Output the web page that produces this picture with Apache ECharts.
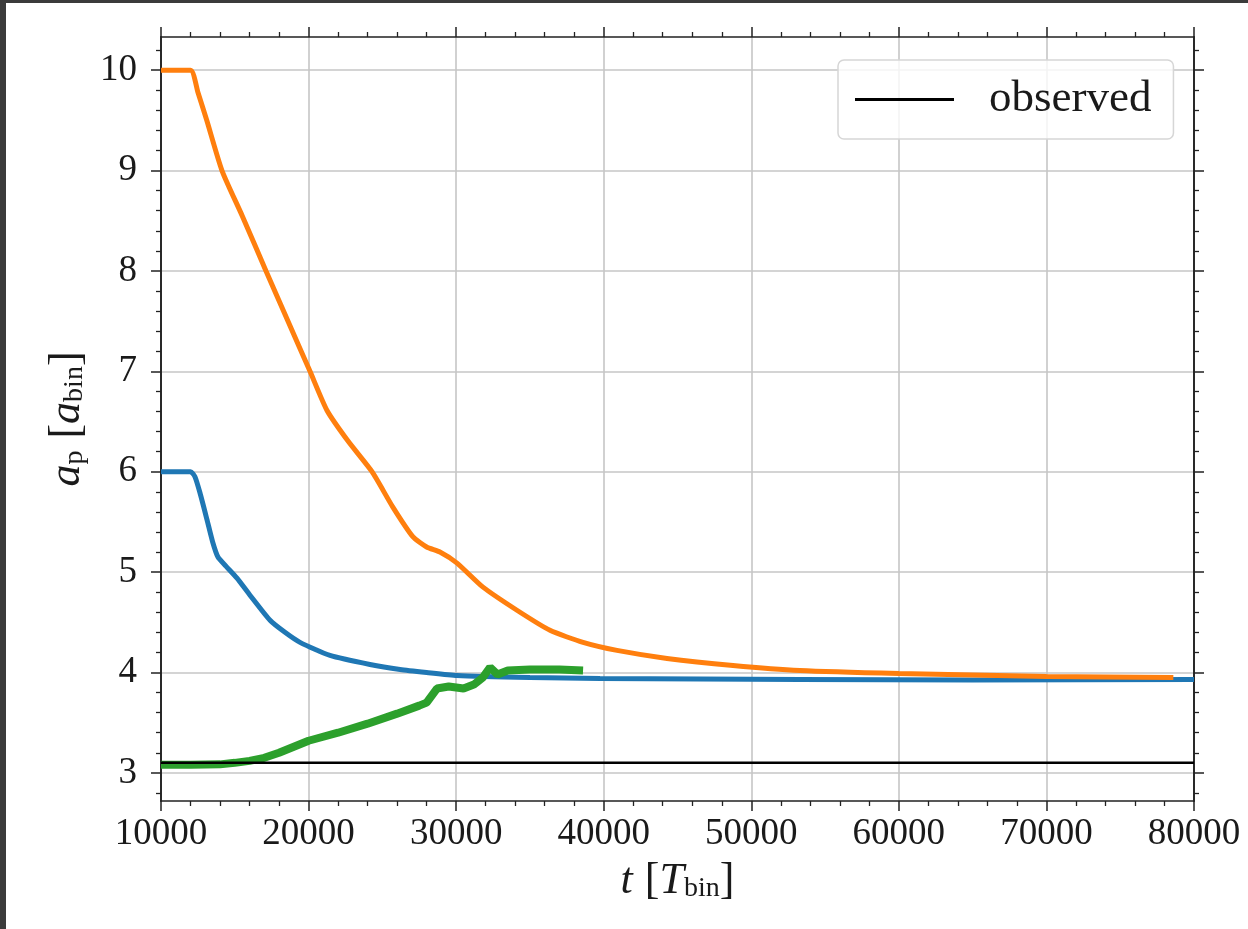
<!DOCTYPE html>
<html>
<head>
<meta charset="utf-8">
<script src="https://cdn.jsdelivr.net/npm/echarts@6/dist/echarts.min.js"></script>
<style>
  html, body { margin: 0; padding: 0; background: #3b3b3b; width: 1248px; height: 929px; overflow: hidden; }
  #chart { position: absolute; left: 6px; top: 3px; width: 1242px; height: 926px; background: #ffffff; }
</style>
</head>
<body>
<div id="chart"></div>
<script>
// ---- data ----
const blueT   = [10000, 12000, 12300, 12640, 13120, 13500, 13860, 14400, 15150, 16030, 17390, 18400, 19420, 21450, 24160, 26200, 28000, 30060, 35000, 39750, 53300, 65000, 80000];
const blueV   = [6.00,  6.00,  5.95,  5.79,  5.52,  5.30,  5.15,  5.06,  4.94,  4.77,  4.52,  4.40,  4.30,  4.17,  4.08,  4.03,  4.00,  3.97,  3.95,  3.94,  3.93,  3.925, 3.93];

const orangeT = [10000, 12000, 12500, 13100, 14130, 15500, 17115, 18600, 20097, 21250, 22700, 24300, 25700, 27080, 28000, 28900, 30060, 31820, 34120, 36360, 38600, 40900, 44290, 48760, 53300, 60000, 70000, 78600];
const orangeV = [10.0,  10.0,  9.78,  9.50,  9.00,  8.55,  8.00,  7.50,  7.00,  6.61,  6.30,  6.00,  5.65,  5.35,  5.25,  5.20,  5.09,  4.85,  4.62,  4.42,  4.30,  4.22,  4.14,  4.07,  4.02,  3.99,  3.96,  3.95];

const greenT  = [10000, 12000, 14000, 15000, 16000, 17000, 18000, 19000, 20000, 22000, 24000, 26000, 27500, 28000, 28700, 29500, 30500, 31200, 31800, 32300, 32800, 33500, 35000, 37000, 38600];
const greenV  = [3.08,  3.08,  3.085, 3.10,  3.12,  3.15,  3.20,  3.26,  3.32,  3.40,  3.49,  3.59,  3.67,  3.70,  3.84,  3.86,  3.84,  3.88,  3.95,  4.05,  3.98,  4.02,  4.03,  4.03,  4.02];

const observedT = [10000, 80000];
const observedV = [3.1, 3.1];

const xMin = 10000, xMax = 80000, xStep = 10000;
const yMin = 2.72, yMax = 10.33;
const yMajorTicks = [3, 4, 5, 6, 7, 8, 9, 10];
const yMinorTicks = [2.8, 3.2, 3.4, 3.6, 3.8, 4.2, 4.4, 4.6, 4.8, 5.2, 5.4, 5.6, 5.8, 6.2, 6.4, 6.6, 6.8, 7.2, 7.4, 7.6, 7.8, 8.2, 8.4, 8.6, 8.8, 9.2, 9.4, 9.6, 9.8, 10.2];

const legendLabel = 'observed';

// ---- helpers ----
const pairs = (t, v) => t.map((x, i) => [x, v[i]]);
const FONT = 'Liberation Serif';
const INK = '#1a1a1a';
const SPINE = { show: true, onZero: false, lineStyle: { color: '#222', width: 1.6 } };
const NAME_RICH = {
  i: { fontFamily: FONT, fontStyle: 'italic', fontSize: 44, lineHeight: 44, color: INK },
  r: { fontFamily: FONT, fontSize: 44, lineHeight: 44, color: INK, padding: [0, 0, 0, 12] },
  e: { fontFamily: FONT, fontSize: 44, lineHeight: 44, color: INK },
  s: { fontFamily: FONT, fontSize: 28, lineHeight: 18, verticalAlign: 'bottom', color: INK }
};

function xAxisCfg(pos, showLabel) {
  return {
    type: 'value', position: pos, min: xMin, max: xMax, interval: xStep,
    axisLine: SPINE,
    axisTick: { show: true, inside: false, length: 10, lineStyle: { color: '#222', width: 1.5 } },
    minorTick: { show: true, splitNumber: 5, length: 5, lineStyle: { color: '#222', width: 1.3 } },
    splitLine: { show: showLabel, lineStyle: { color: '#c6c6c6', width: 1.6 } },
    minorSplitLine: { show: false },
    axisLabel: { show: showLabel, fontFamily: FONT, fontSize: 37, color: INK, margin: 15,
                 formatter: (v) => String(v) },
    name: showLabel ? '{i|t}{r|[}{i|T}{s|bin}{e|]}' : '',
    nameLocation: 'middle', nameGap: 58,
    nameTextStyle: { rich: NAME_RICH }
  };
}

function yAxisCfg(pos, ticks, tickLen, showLabel, showSplit) {
  return {
    type: 'value', position: pos, min: yMin, max: yMax, splitNumber: 8,
    axisLine: SPINE,
    axisTick: { show: true, inside: false, length: tickLen, customValues: ticks, lineStyle: { color: '#222', width: tickLen > 6 ? 1.5 : 1.3 } },
    minorTick: { show: false },
    splitLine: { show: showSplit, lineStyle: { color: '#c6c6c6', width: 1.6 } },
    axisLabel: { show: showLabel, customValues: ticks, fontFamily: FONT, fontSize: 37, color: INK, margin: 24 },
    name: showLabel ? '{i|a}{s|p}{r|[}{i|a}{s|bin}{e|]}' : '',
    nameLocation: 'middle', nameGap: 70,
    nameTextStyle: { rich: NAME_RICH }
  };
}

const chart = echarts.init(document.getElementById('chart'), null, { renderer: 'canvas' });
chart.setOption({
  animation: false,
  backgroundColor: '#ffffff',
  grid: { left: 155, right: 54, top: 34, bottom: 128, containLabel: false },
  xAxis: [ xAxisCfg('bottom', true), xAxisCfg('top', false) ],
  yAxis: [
    yAxisCfg('left', yMajorTicks, 10, true, true),
    yAxisCfg('left', yMinorTicks, 5, false, false),
    yAxisCfg('right', yMajorTicks, 10, false, false),
    yAxisCfg('right', yMinorTicks, 5, false, false)
  ],
  legend: {
    data: [legendLabel],
    left: 832, top: 57,
    orient: 'horizontal',
    icon: 'rect', itemWidth: 99, itemHeight: 3,
    padding: [17, 22, 17, 17],
    backgroundColor: 'rgba(255,255,255,0.8)',
    borderColor: '#d6d6d6', borderWidth: 1.5, borderRadius: 6,
    itemStyle: { color: '#000' },
    textStyle: { fontFamily: FONT, fontSize: 45, lineHeight: 45, color: INK, padding: [0, 0, 0, 30] }
  },
  series: [
    { name: 'blue', type: 'line', data: pairs(blueT, blueV), showSymbol: false, symbol: 'none',
      smooth: 0.2,
      lineStyle: { color: '#1f77b4', width: 5 }, itemStyle: { color: '#1f77b4' }, z: 2 },
    { name: 'orange', type: 'line', data: pairs(orangeT, orangeV), showSymbol: false, symbol: 'none',
      smooth: 0.2,
      lineStyle: { color: '#ff7f0e', width: 5 }, itemStyle: { color: '#ff7f0e' }, z: 3 },
    { name: 'green', type: 'line', data: pairs(greenT, greenV), showSymbol: false, symbol: 'none',
      lineStyle: { color: '#2ca02c', width: 8 }, itemStyle: { color: '#2ca02c' }, z: 4 },
    { name: legendLabel, type: 'line', data: pairs(observedT, observedV), showSymbol: false, symbol: 'none',
      lineStyle: { color: '#000', width: 2.5 }, itemStyle: { color: '#000' }, z: 5 }
  ]
});
</script>
</body>
</html>
